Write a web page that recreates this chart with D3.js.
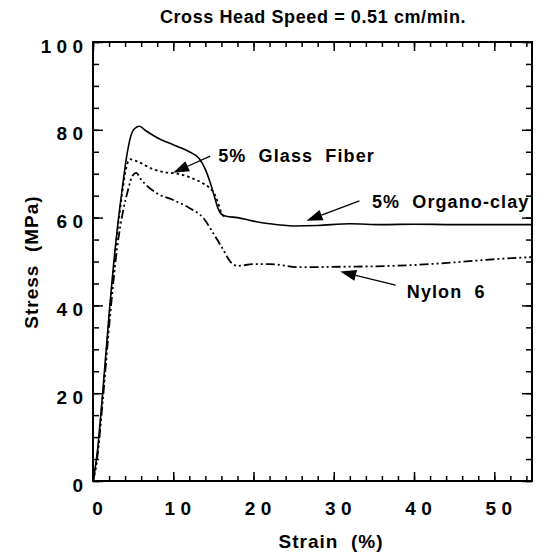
<!DOCTYPE html>
<html>
<head>
<meta charset="utf-8">
<script src="https://cdn.jsdelivr.net/npm/d3@7"></script>
<style>
  body { margin: 0; background: #fff; }
  svg text { font-family: "Liberation Sans", Arial, Helvetica, sans-serif; font-weight: bold; fill: #000; }
</style>
</head>
<body>
<div id="chart"></div>
<script>
// tick values
const strainTicks = [0, 10, 20, 30, 40, 50];
const stressTicks = [0, 20, 40, 60, 80, 100];

// curves: [strain %, stress MPa]
const organoClay = [
  [0, 0], [0.5, 6], [1.2, 20], [2.1, 40], [3.0, 57], [3.6, 66], [4.2, 74], [4.7, 78.5],
  [5.2, 80.3], [5.8, 80.8], [6.5, 79.9], [8, 78.2], [10, 76.6], [12, 75], [13.2, 73.5],
  [14, 71], [14.6, 68], [15.1, 65], [15.5, 62.5], [16, 60.8], [16.6, 60.3], [18, 60],
  [20, 59.2], [22, 58.6], [25, 58.1], [28, 58.2], [32, 58.6], [36, 58.4], [40, 58.5],
  [45, 58.4], [50, 58.4], [54.7, 58.4]
];
const glassFiber = [
  [0, 0], [0.5, 5], [1.2, 19], [2.1, 39], [3.0, 56], [3.6, 65], [4.1, 71], [4.6, 73.3],
  [5.5, 72.8], [7.5, 71], [9, 70.3], [10.5, 70], [12, 69.2], [13.5, 68], [14.5, 66.8],
  [15.1, 65.5], [15.6, 63.3], [16.0, 61], [16.4, 60.2]
];
const nylon6 = [
  [0, 0], [0.5, 5], [1.2, 18], [2.1, 37], [3.0, 53], [3.8, 62], [4.4, 66.5], [4.9, 69.5],
  [5.4, 70.2], [5.9, 68.9], [7, 66.8], [8, 65.5], [10, 64], [12, 62.2], [13.8, 59.8],
  [15, 56.4], [16, 53.4], [17.3, 49.6], [18, 49], [20, 49.4], [22, 49.4], [25.8, 48.7],
  [30.8, 48.8], [35, 48.9], [40, 49.2], [45, 49.8], [50.7, 50.6], [54.7, 51]
];

// annotations: label, text anchor (strain, stress), arrow tail, arrow tip
const notes = [
  { label: "5%  Glass  Fiber", at: [15.6, 72.7], tail: [14.6, 74.0], tip: [9.98, 70.2] },
  { label: "5%  Organo-clay", at: [34.75, 62.3], tail: [33.2, 63.8], tip: [26.6, 59.3] },
  { label: "Nylon  6", at: [39.1, 41.6], tail: [37.7, 44.6], tip: [30.8, 47.7] }
];

const width = 541, height = 558;
const padL = 93, padR = 532, padT = 42, padB = 481;

const svg = d3.select("#chart").append("svg")
  .attr("width", width)
  .attr("height", height);

const x = d3.scaleLinear().domain([0, 54.7]).range([padL, padR]);
const y = d3.scaleLinear().domain([0, 100]).range([padB, padT]);

const spaced = d => String(d).split("").join(" ");

// minor ticks, all four sides, pointing inward
const minorX = d3.range(0, 55, 2);
const minorY = d3.range(0, 101, 5);
const axes = [
  [d3.axisBottom(x).tickValues(minorX).tickSize(-5).tickFormat(""), `translate(0,${padB})`],
  [d3.axisTop(x).tickValues(minorX).tickSize(-5).tickFormat(""), `translate(0,${padT})`],
  [d3.axisLeft(y).tickValues(minorY).tickSize(-6).tickFormat(""), `translate(${padL},0)`],
  [d3.axisRight(y).tickValues(minorY).tickSize(-6).tickFormat(""), `translate(${padR},0)`],
  [d3.axisBottom(x).tickValues(strainTicks).tickSize(-9).tickPadding(21).tickFormat(spaced), `translate(4,${padB})`],
  [d3.axisTop(x).tickValues(strainTicks).tickSize(-9).tickFormat(""), `translate(0,${padT})`],
  [d3.axisLeft(y).tickValues(stressTicks).tickSize(-10).tickPadding(10).tickFormat(spaced), `translate(${padL},4)`],
  [d3.axisRight(y).tickValues(stressTicks).tickSize(-10).tickFormat(""), `translate(${padR},0)`]
];
axes.forEach(([ax, t], i) => {
  const g = svg.append("g").attr("transform", t).call(ax);
  g.select(".domain").remove();
  g.selectAll("line").attr("stroke", "#000").attr("stroke-width", 1.5);
  // labels are shifted, keep their tick lines on the grid
  if (i === 4) g.selectAll("line").attr("transform", "translate(-4,0)");
  if (i === 6) g.selectAll("line").attr("transform", "translate(0,-4)");
  g.selectAll("text").style("font-size", "19px").attr("font-family", null).attr("font-size", null);
});

// frame
svg.append("rect")
  .attr("x", padL).attr("y", padT)
  .attr("width", padR - padL).attr("height", padB - padT)
  .attr("fill", "none").attr("stroke", "#000").attr("stroke-width", 2);

// curves
const line = d3.line().x(d => x(d[0])).y(d => y(d[1])).curve(d3.curveMonotoneX);
const curves = [
  { data: organoClay, dash: null, w: 1.6 },
  { data: glassFiber, dash: "2.5,3", w: 1.8 },
  { data: nylon6, dash: "9,3,2,3,2,3", w: 1.8 }
];
svg.selectAll(".curve")
  .data(curves)
  .enter()
  .append("path")
  .attr("class", "curve")
  .attr("d", d => line(d.data))
  .attr("fill", "none")
  .attr("stroke", "#000")
  .attr("stroke-width", d => d.w)
  .attr("stroke-dasharray", d => d.dash);

// annotation arrows and labels
notes.forEach(n => {
  const x0 = x(n.tail[0]), y0 = y(n.tail[1]);
  const x1 = x(n.tip[0]), y1 = y(n.tip[1]);
  const a = Math.atan2(y1 - y0, x1 - x0);
  const len = 16, half = 5.5;
  const bx = x1 - len * Math.cos(a), by = y1 - len * Math.sin(a);
  svg.append("line")
    .attr("x1", x0).attr("y1", y0).attr("x2", bx).attr("y2", by)
    .attr("stroke", "#000").attr("stroke-width", 1.2);
  svg.append("polygon")
    .attr("points", [
      [x1, y1],
      [bx + half * Math.sin(a), by - half * Math.cos(a)],
      [bx - half * Math.sin(a), by + half * Math.cos(a)]
    ].map(p => p.join(",")).join(" "))
    .attr("fill", "#000");
  svg.append("text")
    .attr("x", x(n.at[0])).attr("y", y(n.at[1]))
    .style("font-size", "18px")
    .style("white-space", "pre")
    .style("letter-spacing", "1.1px")
    .text(n.label);
});

// titles
svg.append("text")
  .attr("x", 313).attr("y", 23)
  .attr("text-anchor", "middle")
  .style("font-size", "18px")
  .style("white-space", "pre")
  .style("letter-spacing", "0.6px")
  .text("Cross Head Speed = 0.51 cm/min.");

svg.append("text")
  .attr("x", 331).attr("y", 548)
  .attr("text-anchor", "middle")
  .style("font-size", "19px")
  .style("white-space", "pre")
  .style("letter-spacing", "1px")
  .text("Strain  (%)");

svg.append("text")
  .attr("transform", "translate(38,262) rotate(-90)")
  .attr("text-anchor", "middle")
  .style("font-size", "19px")
  .style("white-space", "pre")
  .style("letter-spacing", "1px")
  .text("Stress  (MPa)");
</script>
</body>
</html>
